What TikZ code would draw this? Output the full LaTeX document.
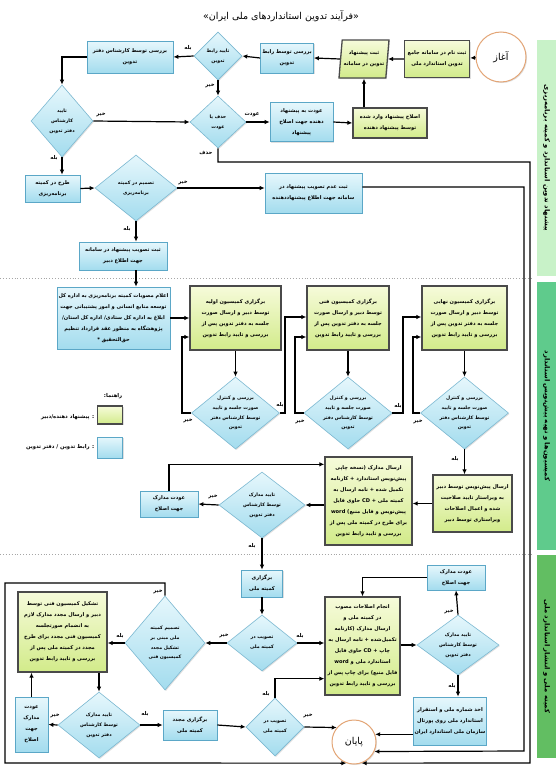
\documentclass[tikz,border=0pt]{standalone}
\usepackage{fontspec}
\usetikzlibrary{shapes.geometric,arrows.meta,shadows,calc}
\TeXXeTstate=1
\newfontfamily\fa[Script=Arabic]{DejaVu Sans}
\definecolor{bluetop}{HTML}{E6F7FC}
\definecolor{bluebot}{HTML}{A3DCEE}
\definecolor{bluedraw}{HTML}{5BA7C7}
\definecolor{greentop}{HTML}{F6FBDA}
\definecolor{greenbot}{HTML}{D2EB8A}
\definecolor{greendraw}{HTML}{4A4A4A}
\definecolor{bandA}{HTML}{C8F2C8}
\definecolor{bandB}{HTML}{5FCB8C}
\definecolor{bandC}{HTML}{62BE62}
\definecolor{startdraw}{HTML}{E3A576}
\tikzset{
  base/.style={align=center, inner sep=1pt, font=\fa\bfseries\fontsize{5.1}{11}\selectfont},
  shad/.style={drop shadow={opacity=0.25,shadow xshift=1pt,shadow yshift=-1pt}},
  bluebox/.style={base, rectangle, draw=bluedraw, line width=0.7pt, top color=bluetop, bottom color=bluebot, shad},
  greenbox/.style={base, rectangle, draw=greendraw, line width=1.3pt, top color=greentop, bottom color=greenbot, shad},
  decision/.style={diamond, draw=bluedraw!80, line width=0.6pt, top color=bluetop, bottom color=bluebot, inner sep=0pt, shad},
  dtext/.style={align=center, inner sep=0pt, font=\fa\bfseries\fontsize{4.7}{9.8}\selectfont},
  startend/.style={circle, draw=startdraw, line width=1pt, fill=white, minimum size=#1, inner sep=0pt, font=\fa\fontsize{9.5}{10}\selectfont, shad},
  arr/.style={-{Latex[length=5pt,width=4.5pt]}, line width=1.2pt},
  lbl/.style={font=\fa\bfseries\fontsize{5.3}{6}\selectfont, inner sep=0.5pt},
  sepline/.style={gray!70, dotted, line width=0.9pt},
  bandtext/.style={font=\fa\bfseries\fontsize{6.8}{7}\selectfont, inner sep=0pt, rotate=-90},
}
\begin{document}
\begin{tikzpicture}[x=1pt,y=-1pt]
\useasboundingbox (0,0) rectangle (556,771);
\fill[white] (0,0) rectangle (556,771);

% title
\node[font=\fa\fontsize{9.5}{11}\selectfont] (title) at (281,16) {\beginR«فرآیند تدوین استانداردهای ملی ایران»\endR};

% side bands
\node[fill=bandA, minimum width=19pt, minimum height=236pt, inner sep=0pt] (bA) at (546.5,158) {};
\node[bandtext] (bAt) at (bA) {\beginR پیشنهاد تدوین استاندارد و کمیته برنامه‌ریزی\endR};
\node[fill=bandB, minimum width=19pt, minimum height=268pt, inner sep=0pt] (bB) at (546.5,416) {};
\node[bandtext] (bBt) at (bB) {\beginR کمیسیون‌ها و تهیه پیش‌نویس استاندارد\endR};
\node[fill=bandC, minimum width=19pt, minimum height=203pt, inner sep=0pt] (bC) at (546.5,656.5) {};
\node[bandtext] (bCt) at (bC) {\beginR کمیته ملی و انتشار استاندارد ملی\endR};

% separators
\draw[sepline] (0,278) -- (533,278);
\draw[sepline] (0,554) -- (533,554);

% ---------- section 1 ----------
\node[startend=50pt] (start) at (501,57) {\beginR آغاز\endR};
\node[greenbox, minimum width=65pt, minimum height=37pt] (reg) at (437,59) {\beginR ثبت نام در سامانه جامع\endR\\\beginR تدوین استاندارد ملی\endR};
\node[greenbox, trapezium, trapezium left angle=80, trapezium right angle=100, trapezium stretches body, minimum width=50pt, minimum height=38pt] (prop) at (364,59) {\beginR ثبت پیشنهاد\endR\\\beginR تدوین در سامانه\endR};
\node[bluebox, minimum width=53pt, minimum height=30pt] (rab) at (287,58) {\beginR بررسی توسط رابط\endR\\\beginR تدوین\endR};
\node[decision, minimum width=48pt, minimum height=48pt, label={[dtext]center:{\beginR تایید رابط\endR\\\beginR تدوین\endR}}] (drab) at (218,56) {};
\node[bluebox, minimum width=86pt, minimum height=32pt] (kar) at (130,57) {\beginR بررسی توسط کارشناس دفتر\endR\\\beginR تدوین\endR};
\node[decision, minimum width=62pt, minimum height=72pt, label={[dtext]center:{\beginR تایید\endR\\\beginR کارشناس\endR\\\beginR دفتر تدوین\endR}}] (dkar) at (62,121) {};
\node[decision, minimum width=56pt, minimum height=52pt, label={[dtext]center:{\beginR حذف یا\endR\\\beginR عودت\endR}}] (dhaz) at (218,122) {};
\node[bluebox, minimum width=63pt, minimum height=39pt] (odat) at (301.5,122) {\beginR عودت به پیشنهاد\endR\\\beginR دهنده جهت اصلاح\endR\\\beginR پیشنهاد\endR};
\node[greenbox, minimum width=74pt, minimum height=30pt] (esl) at (390,123) {\beginR اصلاح پیشنهاد وارد شده\endR\\\beginR توسط پیشنهاد دهنده\endR};

\node[bluebox, minimum width=55pt, minimum height=27pt] (tarh) at (52.5,188.5) {\beginR طرح در کمیته\endR\\\beginR برنامه‌ریزی\endR};
\node[decision, minimum width=82pt, minimum height=66pt, label={[dtext]center:{\beginR تصمیم در کمیته\endR\\\beginR برنامه‌ریزی\endR}}] (dtas) at (136,188) {};
\node[bluebox, minimum width=97pt, minimum height=40pt] (adam) at (313.5,193) {\beginR ثبت عدم تصویب پیشنهاد در\endR\\\beginR سامانه جهت اطلاع پیشنهاددهنده\endR};
\node[bluebox, minimum width=88pt, minimum height=28pt] (tasv) at (123,256) {\beginR ثبت تصویب پیشنهاد در سامانه\endR\\\beginR جهت اطلاع دبیر\endR};

% ---------- section 2 ----------
\node[bluebox, minimum width=113pt, minimum height=62pt] (elam) at (113.5,318) {\beginR اعلام مصوبات کمیته برنامه‌ریزی به اداره کل\endR\\\beginR توسعه منابع انسانی و امور پشتیبانی جهت\endR\\\beginR ابلاغ به اداره کل ستادی/ اداره کل استان/\endR\\\beginR پژوهشگاه به منظور عقد قرارداد تنظیم\endR\\\beginR حق‌التحقیق *\endR};
\node[greenbox, minimum width=91pt, minimum height=64pt] (k1) at (235.5,318) {\beginR برگزاری کمیسیون اولیه\endR\\\beginR توسط دبیر و ارسال صورت\endR\\\beginR جلسه به دفتر تدوین پس از\endR\\\beginR بررسی و تایید رابط تدوین\endR};
\node[greenbox, minimum width=82pt, minimum height=64pt] (k2) at (348,318) {\beginR برگزاری کمیسیون فنی\endR\\\beginR توسط دبیر و ارسال صورت\endR\\\beginR جلسه به دفتر تدوین پس از\endR\\\beginR بررسی و تایید رابط تدوین\endR};
\node[greenbox, minimum width=85pt, minimum height=64pt] (k3) at (464.5,318) {\beginR برگزاری کمیسیون نهایی\endR\\\beginR توسط دبیر و ارسال صورت\endR\\\beginR جلسه به دفتر تدوین پس از\endR\\\beginR بررسی و تایید رابط تدوین\endR};
\node[decision, minimum width=88pt, minimum height=72pt, label={[dtext]center:{\beginR بررسی و کنترل\endR\\\beginR صورت جلسه و تایید\endR\\\beginR توسط کارشناس دفتر\endR\\\beginR تدوین\endR}}] (d1) at (235.5,413) {};
\node[decision, minimum width=88pt, minimum height=72pt, label={[dtext]center:{\beginR بررسی و کنترل\endR\\\beginR صورت جلسه و تایید\endR\\\beginR توسط کارشناس دفتر\endR\\\beginR تدوین\endR}}] (d2) at (348,413) {};
\node[decision, minimum width=88pt, minimum height=72pt, label={[dtext]center:{\beginR بررسی و کنترل\endR\\\beginR صورت جلسه و تایید\endR\\\beginR توسط کارشناس دفتر\endR\\\beginR تدوین\endR}}] (d3) at (464.5,413) {};

% legend
\node[lbl, anchor=east] (lgh) at (123,396) {\beginR راهنما:\endR};
\node[greenbox, minimum width=25pt, minimum height=18pt] (lg1) at (110,415) {};
\node[bluebox, minimum width=25pt, minimum height=21pt] (lg2) at (110,447.5) {};
\node[lbl, anchor=east] (lg1t) at (95,417) {\beginR : پیشنهاد دهنده/دبیر\endR};
\node[lbl, anchor=east] (lg2t) at (95,447) {\beginR : رابط تدوین / دفتر تدوین\endR};

\node[greenbox, minimum width=79pt, minimum height=57pt] (ers) at (472.5,503.5) {\beginR ارسال پیش‌نویس توسط دبیر\endR\\\beginR به ویراستار تایید صلاحیت\endR\\\beginR شده و اعمال اصلاحات\endR\\\beginR ویراستاری توسط دبیر\endR};
\node[greenbox, minimum width=87pt, minimum height=88pt] (mad) at (368.5,501) {\beginR ارسال مدارک (نسخه چاپی\endR\\\beginR پیش‌نویس استاندارد + کارنامه\endR\\\beginR تکمیل شده + نامه ارسال به\endR\\\beginR کمیته ملی + \beginL CD\endL{} حاوی فایل\endR\\\beginR پیش‌نویس و فایل منبع) \beginL word\endL\endR\\\beginR برای طرح در کمیته ملی پس از\endR\\\beginR بررسی و تایید رابط تدوین\endR};
\node[decision, minimum width=86pt, minimum height=66pt, label={[dtext]center:{\beginR تایید مدارک\endR\\\beginR توسط کارشناس\endR\\\beginR دفتر تدوین\endR}}] (dmad) at (262,505) {};
\node[bluebox, minimum width=58pt, minimum height=26pt] (odm) at (169,504) {\beginR عودت مدارک\endR\\\beginR جهت اصلاح\endR};

% ---------- section 3 ----------
\node[bluebox, minimum width=41pt, minimum height=27pt] (bk) at (262,583.5) {\beginR برگزاری\endR\\\beginR کمیته ملی\endR};
\node[decision, minimum width=70pt, minimum height=56pt, label={[dtext]center:{\beginR تصویب در\endR\\\beginR کمیته ملی\endR}}] (dt1) at (262,643) {};
\node[decision, minimum width=80pt, minimum height=94pt, label={[dtext]center:{\beginR تصمیم کمیته\endR\\\beginR ملی مبنی بر\endR\\\beginR تشکیل مجدد\endR\\\beginR کمیسیون فنی\endR}}] (dtm) at (165,643) {};
\node[greenbox, minimum width=89pt, minimum height=80pt] (tk) at (62.5,632) {\beginR تشکیل کمیسیون فنی توسط\endR\\\beginR دبیر و ارسال مجدد مدارک لازم\endR\\\beginR به انضمام صورتجلسه\endR\\\beginR کمیسیون فنی مجدد برای طرح\endR\\\beginR مجدد در کمیته ملی پس از\endR\\\beginR بررسی و تایید رابط تدوین\endR};
\node[decision, minimum width=82pt, minimum height=66pt, label={[dtext]center:{\beginR تایید مدارک\endR\\\beginR توسط کارشناس\endR\\\beginR دفتر تدوین\endR}}] (dm2) at (99,725) {};
\node[bluebox, minimum width=33pt, minimum height=55pt] (om2) at (31.5,724.5) {\beginR عودت\endR\\\beginR مدارک\endR\\\beginR جهت\endR\\\beginR اصلاح\endR};
\node[bluebox, minimum width=54pt, minimum height=30pt] (bm) at (190,725) {\beginR برگزاری مجدد\endR\\\beginR کمیته ملی\endR};
\node[decision, minimum width=58pt, minimum height=58pt, label={[dtext]center:{\beginR تصویب در\endR\\\beginR کمیته ملی\endR}}] (dt2) at (275,727) {};
\node[greenbox, minimum width=75pt, minimum height=98pt] (ej) at (362.5,646) {\beginR انجام اصلاحات مصوب\endR\\\beginR در کمیته ملی و\endR\\\beginR ارسال مدارک (کارنامه\endR\\\beginR تکمیل‌شده + نامه ارسال به\endR\\\beginR چاپ + \beginL CD\endL{} حاوی فایل\endR\\\beginR استاندارد ملی و \beginL word\endL\endR\\\beginR فایل منبع) برای چاپ پس از\endR\\\beginR بررسی و تایید رابط تدوین\endR};
\node[bluebox, minimum width=58pt, minimum height=25pt] (om3) at (456,577.5) {\beginR عودت مدارک\endR\\\beginR جهت اصلاح\endR};
\node[decision, minimum width=82pt, minimum height=60pt, label={[dtext]center:{\beginR تایید مدارک\endR\\\beginR توسط کارشناس\endR\\\beginR دفتر تدوین\endR}}] (dm3) at (458,645) {};
\node[bluebox, minimum width=65pt, minimum height=48pt] (akh) at (450,721) {\beginR اخذ شماره ملی و استقرار\endR\\\beginR استاندارد ملی روی پورتال\endR\\\beginR سازمان ملی استاندارد ایران\endR};
\node[startend=44pt] (end) at (354,742) {\beginR پایان\endR};

% ---------- connectors ----------
\draw[arr] (start) -- (reg);
\draw[arr] (reg.west) -- (prop.east);
\draw[arr] (prop.west) -- (rab.east);
\draw[arr] (rab.west) -- (drab.east);
\draw[arr] (drab.west) -- (kar.east);
\draw[arr] (kar.west) -| (dkar.north);
\draw[arr] (drab.south) -- (dhaz.north);
\draw[arr] (dkar.east) -- (dhaz.west);
\draw[arr] (dhaz.east) -- (odat.west);
\draw[arr] (odat.east) -- (esl.west);
\draw[arr] (esl.north -| prop.south) -- (prop.south);
\draw[arr] (dkar.south) -- (dkar.south |- tarh.north);
\draw[arr] (tarh.east) -- (dtas.west);
\draw[arr] (dtas.east) -- (dtas.east -| adam.west);
\draw[arr] (dtas.south) -- (dtas.south |- tasv.north);
\draw[arr] (dtas.south |- tasv.south) -- (dtas.south |- elam.north);

\draw[arr] (elam.east) -- (elam.east -| k1.west);
\draw[arr] (k1.south) -- (d1.north);
\draw[arr] (k2.south) -- (d2.north);
\draw[arr] (k3.south) -- (d3.north);
\coordinate (c1) at (182,413);
\coordinate (c2) at (285,413);
\coordinate (c3) at (295,413);
\coordinate (c4) at (403,413);
\coordinate (c5) at (413,413);
\draw[arr] (d1.west) -- (c1) |- ($(k1.west)+(0,19)$);
\draw[arr] (d1.east) -- (c2) |- ($(k2.west)+(0,-1)$);
\draw[arr] (d2.west) -- (c3) |- ($(k2.west)+(0,19)$);
\draw[arr] (d2.east) -- (c4) |- ($(k3.west)+(0,-1)$);
\draw[arr] (d3.west) -- (c5) |- ($(k3.west)+(0,19)$);

\draw[arr] (d3.south) -- (d3.south |- ers.north);
\draw[arr] (ers.west) -- (ers.west -| mad.east);
\draw[arr] (dmad.east -| mad.west) -- (dmad.east);
\draw[arr] (dmad.west) -- (odm.east);
\draw[arr] (odm.north) |- ($(mad.north west)+(0,8)$);
\draw[arr] (dmad.south) -- (dmad.south |- bk.north);

\draw[arr] (bk.south) -- (dt1.north);
\draw[arr] (dt1.west) -- (dtm.east);
\draw[arr] (dtm.west) -- (dtm.west -| tk.east);
\draw[arr] (dt1.east) -- (dt1.east -| ej.west);
\draw[arr] (ej.east |- dm3.west) -- (dm3.west);
\draw[arr] (dm3.north) -- (om3.south);
\draw[arr] (om3.west) -| (ej.north);
\draw[arr] (dm3.south) -- (dm3.south |- akh.north);
\draw[arr] (akh.west |- end.20) -- (end.20);
\draw[arr] (dm2.north |- tk.south) -- (dm2.north);
\draw[arr] (dm2.west) -- (om2.east);
\draw[arr] (om2.north) -- (om2.north |- tk.south);
\draw[arr] (dm2.east) -- (bm.west);
\draw[arr] (bm.east) -- (dt2.west);
\draw[arr] (dt2.north) |- ($(ej.south west)+(0,-17)$);
\draw[arr] (dt2.east) -- (end.140);

% long return lines
\coordinate (r1) at (530,162);
\coordinate (r2) at (530,763);
\coordinate (r3) at (524,187);
\coordinate (r4) at (524,751);
\coordinate (r5) at (5,583);
\coordinate (r6) at (5,763);
\draw[arr] (dhaz.south) -- (dhaz.south |- r1) -- (r1) -- (r2) -- (end.-70);
\draw[arr] (adam.east |- r3) -- (r3) -- (r4) -- (end.-25);
\draw[arr] (dtm.north) -- (dtm.north |- r5) -- (r5) -- (r6) -- (end.-110);

% yes/no labels
\node[lbl] (y1) at (188,48) {\beginR بله\endR};
\node[lbl] (n1) at (210,86) {\beginR خیر\endR};
\node[lbl] (n2) at (101,115) {\beginR خیر\endR};
\node[lbl] (o1) at (252,115) {\beginR عودت\endR};
\node[lbl] (y2) at (54,158) {\beginR بله\endR};
\node[lbl] (h1) at (206,153) {\beginR حذف\endR};
\node[lbl] (n3) at (183,183) {\beginR خیر\endR};
\node[lbl] (y3) at (127,229) {\beginR بله\endR};
\node[lbl] (y4) at (280,405) {\beginR بله\endR};
\node[lbl] (n4) at (188,421) {\beginR خیر\endR};
\node[lbl] (y5) at (398,406) {\beginR بله\endR};
\node[lbl] (n5) at (300,422) {\beginR خیر\endR};
\node[lbl] (n6) at (418,422) {\beginR خیر\endR};
\node[lbl] (y6) at (455,459) {\beginR بله\endR};
\node[lbl] (n7) at (213,497) {\beginR خیر\endR};
\node[lbl] (y7) at (252,546) {\beginR بله\endR};
\node[lbl] (n8) at (158,592) {\beginR خیر\endR};
\node[lbl] (n9) at (224,636) {\beginR خیر\endR};
\node[lbl] (y8) at (120,636) {\beginR بله\endR};
\node[lbl] (y9) at (300,636) {\beginR بله\endR};
\node[lbl] (n10) at (449,612) {\beginR خیر\endR};
\node[lbl] (y10) at (452,686) {\beginR بله\endR};
\node[lbl] (n11) at (55,716) {\beginR خیر\endR};
\node[lbl] (y11) at (145,714) {\beginR بله\endR};
\node[lbl] (y12) at (266,694) {\beginR بله\endR};
\node[lbl] (n12) at (308,716) {\beginR خیر\endR};
\end{tikzpicture}
\end{document}
